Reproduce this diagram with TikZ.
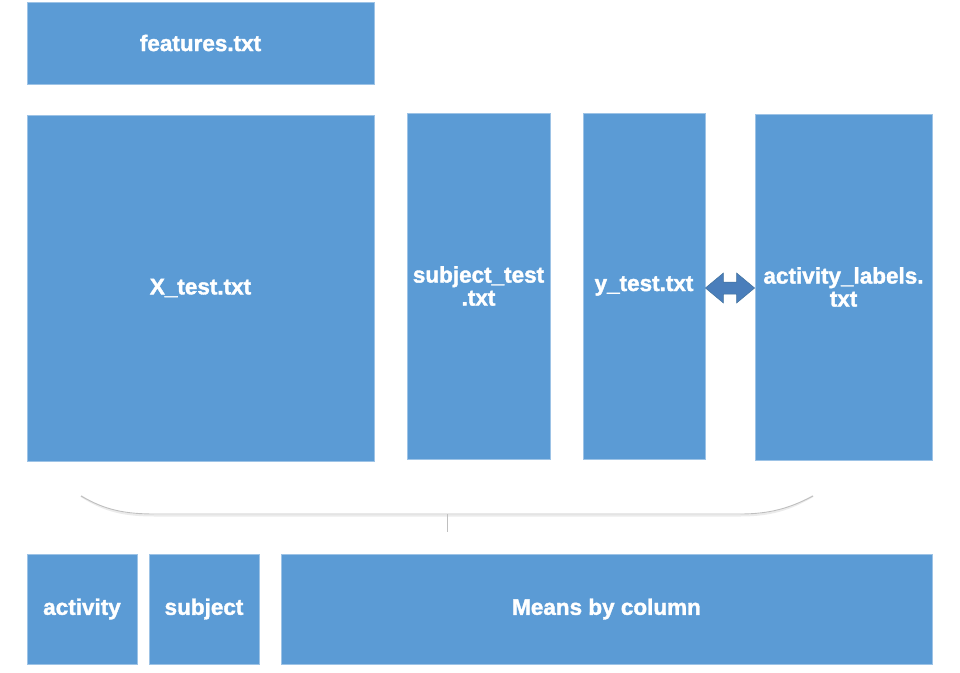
\documentclass[tikz,border=0pt]{standalone}
\usepackage{fontspec}
\setmainfont{Liberation Sans}[BoldFeatures={FakeBold=1.6}]
\usetikzlibrary{calc}
\definecolor{boxblue}{HTML}{5B9BD5}
\definecolor{boxedge}{HTML}{9DC3E6}
\definecolor{arrowblue}{HTML}{4A7EBB}
\definecolor{arrowedge}{HTML}{41719C}
\definecolor{bracegray}{HTML}{BFBFBF}
\begin{document}
\begin{tikzpicture}[x=1pt,y=-1pt,
  filebox/.style={fill=boxblue,draw=boxedge,line width=0.8pt,inner sep=0pt,
    text=white,font=\fontsize{22.5}{23}\selectfont\bfseries,align=center},
]
\useasboundingbox (0,0) rectangle (960,672);
% boxes
\node[filebox,minimum width=347pt,minimum height=82pt] (feat) at (200.5,43) {features.txt};
\node[filebox,minimum width=347pt,minimum height=346pt] (xtest) at (200.5,288) {X\_test.txt};
\node[filebox,minimum width=143pt,minimum height=346pt] (subj) at (478.5,286) {subject\_test\\.txt};
\node[filebox,minimum width=122pt,minimum height=346pt] (ytest) at (644,286) {y\_test.txt};
\node[filebox,minimum width=177pt,minimum height=346pt] (act) at (843.5,287) {activity\_labels.\\txt};
\node[filebox,minimum width=110pt,minimum height=110pt] (bact) at (82,609) {activity};
\node[filebox,minimum width=110pt,minimum height=110pt] (bsubj) at (204,609) {subject};
\node[filebox,minimum width=651pt,minimum height=110pt] (means) at (606.5,609) {Means by column};
% double arrow between y_test and activity_labels
\coordinate (al) at (ytest.east |- 0,288);
\coordinate (ar) at (act.west |- 0,288);
\fill[arrowblue,draw=arrowedge,line width=0.5pt]
  (al) -- ++(18,-15) -- ++(0,9) -- ($(ar)+(-18,-6)$) -- ++(0,-9) -- (ar)
  -- ++(-18,15) -- ++(0,-9) -- ($(al)+(18,6)$) -- ++(0,9) -- cycle;
% brace
\coordinate (bl) at (81,496);
\coordinate (br) at (813,496);
\coordinate (bm) at (447,514);
\coordinate (btip) at (447,532);
\draw[white!92!black,line width=2pt,yshift=-1.5pt]
  (bl) .. controls (105,510) and (125,514) .. (155,514) -- (740,514)
  .. controls (770,514) and (790,508) .. (br);
\draw[bracegray,line width=0.9pt]
  (bl) .. controls (105,510) and (125,514) .. (155,514) -- (740,514)
  .. controls (770,514) and (790,508) .. (br);
\draw[bracegray,line width=0.9pt] (bm) -- (btip);
\end{tikzpicture}
\end{document}
